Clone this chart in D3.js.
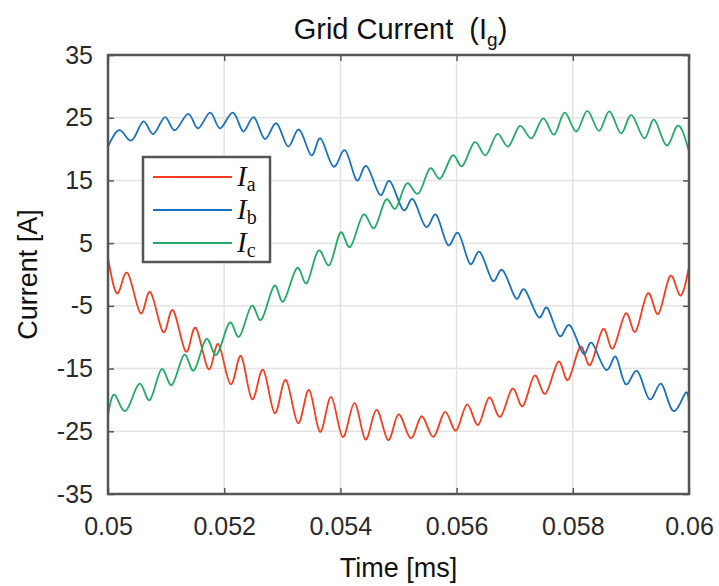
<!DOCTYPE html>
<html>
<head>
<meta charset="utf-8">
<script src="https://cdn.jsdelivr.net/npm/d3@7"></script>
<style>
  body { margin: 0; background: #fff; }
  text { font-family: "Liberation Sans", Arial, sans-serif; }
</style>
</head>
<body>
<script>
// values: ripple peaks and troughs, [time, current]
const ia = [
  [0.05000, 2.6], [0.05017, -3.0], [0.05034, 0.2], [0.05056, -6.2], [0.05073, -2.8],
  [0.05095, -9.2], [0.05112, -5.7], [0.05134, -12.3], [0.05151, -8.5], [0.05173, -15.1],
  [0.05190, -11.1], [0.05211, -17.5], [0.05229, -13.0], [0.05248, -19.9], [0.05267, -15.2],
  [0.05287, -22.1], [0.05306, -16.8], [0.05327, -23.7], [0.05346, -18.4], [0.05365, -25.1],
  [0.05384, -19.5], [0.05404, -25.9], [0.05424, -20.5], [0.05443, -26.3], [0.05462, -21.6],
  [0.05482, -26.4], [0.05500, -22.3], [0.05521, -26.1], [0.05540, -22.6], [0.05560, -25.9],
  [0.05580, -21.9], [0.05599, -24.9], [0.05618, -20.7], [0.05637, -24.0], [0.05656, -19.6],
  [0.05675, -22.7], [0.05696, -18.2], [0.05714, -21.0], [0.05734, -16.1], [0.05753, -19.0],
  [0.05775, -13.9], [0.05792, -16.8], [0.05813, -11.5], [0.05830, -14.4], [0.05852, -8.7],
  [0.05869, -11.8], [0.05891, -6.2], [0.05908, -9.1], [0.05929, -3.0], [0.05947, -6.3],
  [0.05967, -0.3], [0.05984, -3.3], [0.06000, 1.2]
];
const ib = [
  [0.05000, 20.4], [0.05021, 23.0], [0.05041, 21.4], [0.05061, 24.4], [0.05078, 22.4],
  [0.05098, 25.1], [0.05115, 23.0], [0.05138, 25.6], [0.05155, 23.3], [0.05176, 25.8],
  [0.05193, 23.3], [0.05215, 25.8], [0.05233, 22.8], [0.05251, 25.1], [0.05270, 21.6],
  [0.05290, 24.1], [0.05310, 20.4], [0.05329, 23.1], [0.05350, 19.0], [0.05366, 21.7],
  [0.05388, 17.2], [0.05408, 19.8], [0.05428, 15.0], [0.05445, 17.3], [0.05468, 12.7],
  [0.05485, 14.9], [0.05508, 10.3], [0.05525, 12.0], [0.05547, 7.6], [0.05565, 9.5],
  [0.05585, 4.7], [0.05603, 6.6], [0.05623, 1.7], [0.05640, 3.6], [0.05662, -1.0],
  [0.05679, 0.7], [0.05702, -3.8], [0.05717, -2.4], [0.05741, -6.8], [0.05756, -5.3],
  [0.05777, -9.8], [0.05795, -8.1], [0.05818, -12.6], [0.05833, -10.9], [0.05857, -15.2],
  [0.05874, -13.1], [0.05891, -17.5], [0.05911, -15.4], [0.05932, -19.9], [0.05952, -17.4],
  [0.05972, -21.7], [0.05993, -19.0], [0.06000, -20.5]
];
const ic = [
  [0.05000, -22.4], [0.05012, -19.2], [0.05031, -21.7], [0.05054, -17.4], [0.05072, -20.0],
  [0.05092, -15.1], [0.05110, -17.6], [0.05131, -12.8], [0.05148, -15.3], [0.05169, -10.3],
  [0.05187, -12.8], [0.05209, -7.7], [0.05226, -9.9], [0.05247, -5.0], [0.05264, -7.2],
  [0.05286, -1.8], [0.05302, -4.3], [0.05325, 1.0], [0.05342, -1.4], [0.05362, 3.8],
  [0.05381, 1.5], [0.05400, 6.7], [0.05417, 4.4], [0.05439, 9.5], [0.05458, 7.4],
  [0.05478, 11.9], [0.05495, 10.5], [0.05514, 14.5], [0.05534, 12.9], [0.05554, 16.9],
  [0.05572, 15.3], [0.05593, 19.0], [0.05610, 17.3], [0.05631, 21.1], [0.05650, 19.0],
  [0.05670, 22.4], [0.05689, 20.4], [0.05709, 23.7], [0.05729, 21.7], [0.05749, 24.9],
  [0.05768, 22.3], [0.05786, 25.8], [0.05806, 22.8], [0.05825, 26.1], [0.05845, 22.9],
  [0.05863, 26.0], [0.05883, 22.5], [0.05901, 25.4], [0.05923, 21.7], [0.05940, 24.7],
  [0.05961, 20.6], [0.05980, 23.7], [0.06000, 19.6]
];

const xTicks = [0.05, 0.052, 0.054, 0.056, 0.058, 0.06];
const xTickLabels = ["0.05", "0.052", "0.054", "0.056", "0.058", "0.06"];
const yTicks = [35, 25, 15, 5, -5, -15, -25, -35];
const yTickLabels = ["35", "25", "15", "5", "-5", "-15", "-25", "-35"];
const seriesNames = ["a", "b", "c"];
const colors = ["#f53d1f", "#1a72bd", "#22aa66"];

const W = 719, H = 586;
const m = {top: 55, right: 30, bottom: 92, left: 108};
const w = W - m.left - m.right;
const h = H - m.top - m.bottom;

const svg = d3.select("body").append("svg")
    .attr("width", W)
    .attr("height", H);

const g = svg.append("g")
    .attr("transform", `translate(${m.left}, ${m.top})`);

const x = d3.scaleLinear().domain([0.05, 0.06]).range([0, w]);
const y = d3.scaleLinear().domain([-35, 35]).range([h, 0]);

// grid
g.append("g").selectAll("line")
    .data(xTicks.slice(1, -1))
    .join("line")
    .attr("x1", d => x(d)).attr("x2", d => x(d))
    .attr("y1", 0).attr("y2", h)
    .attr("stroke", "#e3e3e3").attr("stroke-width", 1.5);

g.append("g").selectAll("line")
    .data(yTicks.slice(1, -1))
    .join("line")
    .attr("x1", 0).attr("x2", w)
    .attr("y1", d => y(d)).attr("y2", d => y(d))
    .attr("stroke", "#e3e3e3").attr("stroke-width", 1.5);

// lines
const line = d3.line()
    .x(d => x(d[0]))
    .y(d => y(d[1]))
    .curve(d3.curveNatural);

[ia, ib, ic].forEach((s, i) => {
    g.append("path")
        .datum(s)
        .attr("fill", "none")
        .attr("stroke", colors[i])
        .attr("stroke-width", 1.8)
        .attr("d", line);
});

// axes with inward ticks on all sides
const axisColor = "#555";
const styleAxis = sel => {
    sel.select(".domain").remove();
    sel.selectAll(".tick line").attr("stroke", axisColor).attr("stroke-width", 1.5);
    sel.selectAll(".tick text").attr("fill", "#2a2a2a").style("font-size", "25px");
};

g.append("g")
    .attr("transform", `translate(0, ${h})`)
    .call(d3.axisBottom(x).tickValues(xTicks).tickFormat((d, i) => xTickLabels[i])
        .tickSizeInner(-6).tickSizeOuter(0).tickPadding(23))
    .call(styleAxis);

g.append("g")
    .call(d3.axisTop(x).tickValues(xTicks).tickFormat("").tickSizeInner(-6).tickSizeOuter(0))
    .call(styleAxis);

g.append("g")
    .call(d3.axisLeft(y).tickValues(yTicks).tickFormat((d, i) => yTickLabels[i])
        .tickSizeInner(-6).tickSizeOuter(0).tickPadding(15))
    .call(styleAxis);

g.append("g")
    .attr("transform", `translate(${w}, 0)`)
    .call(d3.axisRight(y).tickValues(yTicks).tickFormat("").tickSizeInner(-6).tickSizeOuter(0))
    .call(styleAxis);

g.append("rect")
    .attr("width", w).attr("height", h)
    .attr("fill", "none")
    .attr("stroke", axisColor)
    .attr("stroke-width", 2.5);

// titles
const title = svg.append("text")
    .attr("x", m.left + w / 2 + 2).attr("y", 39)
    .attr("text-anchor", "middle")
    .style("font-size", "29px").attr("fill", "#111");
title.append("tspan").text("Grid Current\u00a0\u00a0(I");
title.append("tspan").attr("dy", 7).style("font-size", "19px").text("g");
title.append("tspan").attr("dy", -7).text(")");

svg.append("text")
    .attr("x", m.left + w / 2).attr("y", 577)
    .attr("text-anchor", "middle")
    .style("font-size", "27px").attr("fill", "#111")
    .text("Time [ms]");

svg.append("text")
    .attr("transform", `translate(37, ${m.top + h / 2}) rotate(-90)`)
    .attr("text-anchor", "middle")
    .style("font-size", "27px").attr("fill", "#111")
    .text("Current [A]");

// legend
const lg = g.append("g").attr("transform", `translate(${143 - m.left}, ${157 - m.top})`);
lg.append("rect")
    .attr("width", 127).attr("height", 105)
    .attr("fill", "#fff")
    .attr("stroke", axisColor)
    .attr("stroke-width", 2.5);

seriesNames.forEach((n, i) => {
    const yy = 20 + i * 33;
    lg.append("line")
        .attr("x1", 10).attr("x2", 89)
        .attr("y1", yy).attr("y2", yy)
        .attr("stroke", colors[i]).attr("stroke-width", 1.8);
    const t = lg.append("text")
        .attr("x", 94).attr("y", yy + 9)
        .style("font-family", "'Liberation Serif', 'DejaVu Serif', serif")
        .attr("fill", "#111");
    t.append("tspan").style("font-style", "italic").style("font-size", "29px").text("I");
    t.append("tspan").attr("dy", 5).style("font-size", "20px").text(n);
});
</script>
</body>
</html>
